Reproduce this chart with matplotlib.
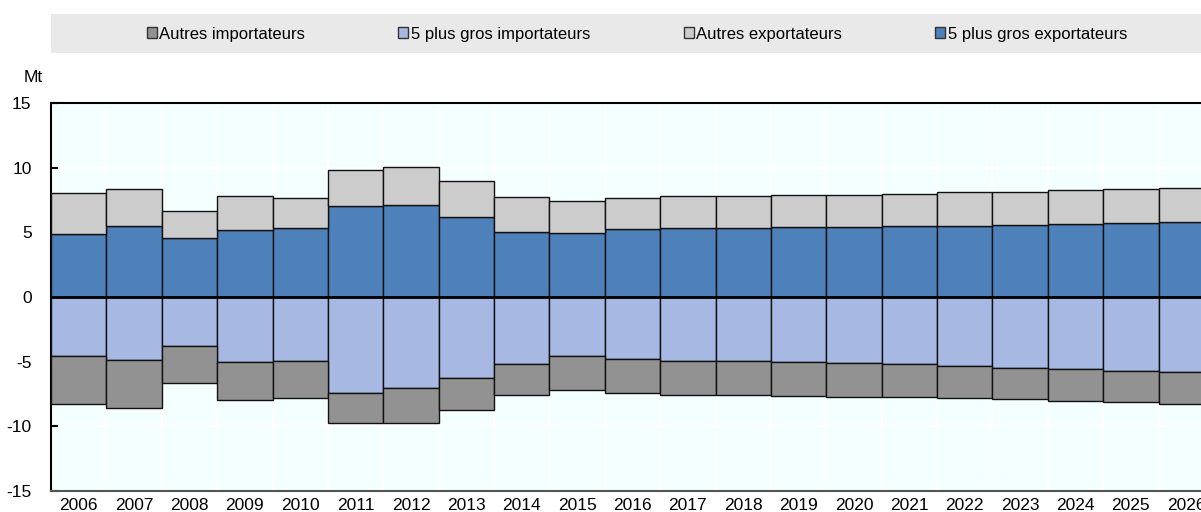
import matplotlib.pyplot as plt
from matplotlib.patches import Patch, Rectangle

plt.rcParams['font.family'] = ['Liberation Sans Narrow', 'Liberation Sans', 'DejaVu Sans']
plt.rcParams['axes.unicode_minus'] = False

years = [str(y) for y in range(2006, 2027)]

# exportateurs (Mt)
top5_exp = [4.85, 5.52, 4.56, 5.18, 5.36, 7.04, 7.09, 6.16, 5.03, 4.95, 5.26,
            5.36, 5.36, 5.39, 5.41, 5.46, 5.49, 5.57, 5.62, 5.72, 5.80]
total_exp = [8.07, 8.38, 6.68, 7.78, 7.63, 9.82, 10.03, 8.97, 7.71, 7.40, 7.68,
             7.84, 7.84, 7.86, 7.91, 7.99, 8.09, 8.15, 8.25, 8.35, 8.45]

# importateurs (Mt, négatifs)
top5_imp = [-4.56, -4.87, -3.79, -5.05, -4.95, -7.45, -7.04, -6.26, -5.21, -4.56, -4.80,
            -4.92, -4.92, -5.00, -5.08, -5.21, -5.31, -5.46, -5.59, -5.70, -5.80]
total_imp = [-8.25, -8.56, -6.68, -7.94, -7.78, -9.77, -9.74, -8.74, -7.61, -7.19, -7.45,
             -7.61, -7.61, -7.65, -7.71, -7.76, -7.84, -7.92, -8.02, -8.12, -8.25]

other_exp = [t - a for t, a in zip(total_exp, top5_exp)]
other_imp = [t - a for t, a in zip(total_imp, top5_imp)]

c_top_exp = '#4e80ba'
c_oth_exp = '#cccccc'
c_top_imp = '#a7b8e3'
c_oth_imp = '#929292'

W, H = 1201, 512
fig = plt.figure(figsize=(W / 100, H / 100), dpi=100)
ax = fig.add_axes([51 / W, 1 - 491 / H, 1163 / W, 388 / H])
ax.set_facecolor('#f4ffff')

x = list(range(len(years)))
kw = dict(width=1.0, edgecolor='#111111', linewidth=1.0, zorder=3)
ax.bar(x, top5_exp, color=c_top_exp, **kw)
ax.bar(x, other_exp, bottom=top5_exp, color=c_oth_exp, **kw)
ax.bar(x, top5_imp, color=c_top_imp, **kw)
ax.bar(x, other_imp, bottom=top5_imp, color=c_oth_imp, **kw)
ax.axhline(0, color='black', linewidth=2, zorder=4)

ax.set_xlim(-0.5, len(years) - 0.5)
ax.set_ylim(-15, 15)
ax.set_yticks(range(-15, 16, 5))
ax.set_xticks(x)
ax.set_xticklabels(years)
ax.set_xticks([i + 0.5 for i in x[:-1]], minor=True)
ax.tick_params(axis='x', which='major', length=0, labelsize=12.5, pad=5)
ax.tick_params(axis='x', which='minor', length=0)
ax.tick_params(axis='y', direction='in', length=5, width=1.5, labelsize=12.5, pad=14)
ax.grid(axis='y', color='white', linewidth=1.5, zorder=1)
ax.grid(axis='x', which='minor', color='white', linewidth=1.5, zorder=1)
ax.grid(axis='x', which='major', visible=False)
ax.set_axisbelow(True)
for s in ['left', 'top']:
    ax.spines[s].set_linewidth(1.5)
    ax.spines[s].set_color('black')
ax.spines['bottom'].set_color('#555555')
ax.spines['bottom'].set_linewidth(1.5)

fig.text(33 / W, 1 - 77 / H, 'Mt', ha='center', va='center', fontsize=12.5)

# bandeau de légende
fig.patches.append(Rectangle((51 / W, 1 - 53 / H), 1150 / W, 39 / H,
                             transform=fig.transFigure, facecolor='#e9e9e9',
                             edgecolor='none', zorder=0))
handles = [Patch(facecolor=c_oth_imp, edgecolor='#333333', label='Autres importateurs'),
           Patch(facecolor=c_top_imp, edgecolor='#333333', label='5 plus gros importateurs'),
           Patch(facecolor=c_oth_exp, edgecolor='#333333', label='Autres exportateurs'),
           Patch(facecolor=c_top_exp, edgecolor='#333333', label='5 plus gros exportateurs')]
fig.legend(handles=handles, loc='center', bbox_to_anchor=(637 / W, 1 - 34 / H),
           ncol=4, frameon=False, fontsize=12, handlelength=0.6, handleheight=0.6,
           handletextpad=0.15, columnspacing=5.6)

fig.savefig('out.png', dpi=100)
